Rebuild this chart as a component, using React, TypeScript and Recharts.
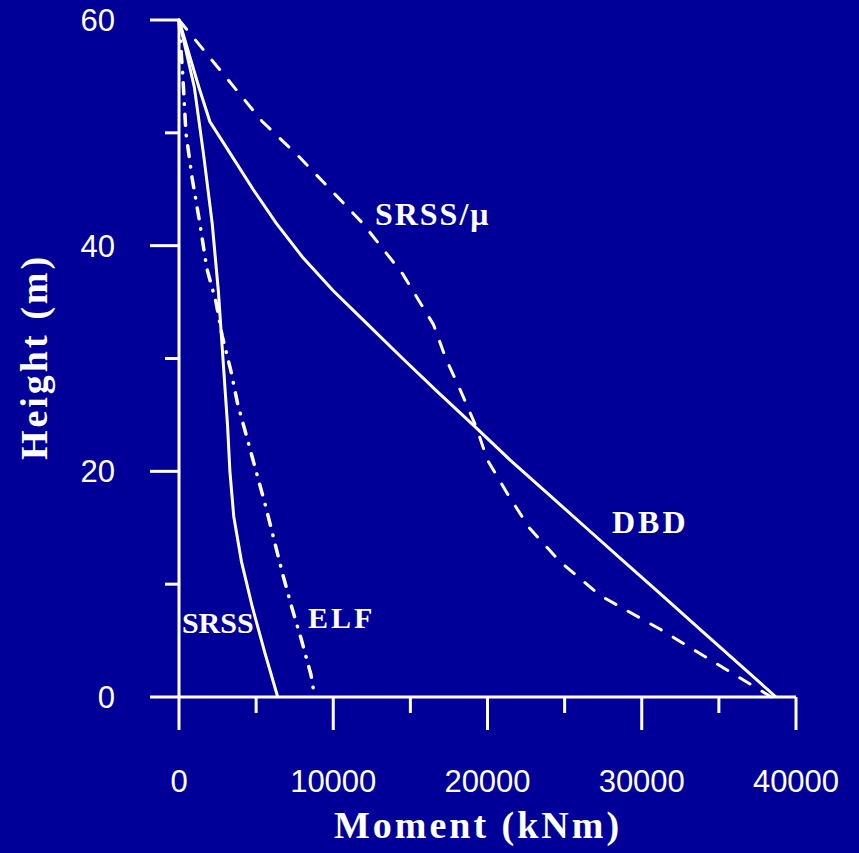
import { LineChart, Line, XAxis, YAxis, ReferenceDot } from 'recharts'

// moment (kNm) vs height (m)
const dbd = [
  { m: 0, h: 60 }, { m: 650, h: 57 }, { m: 1300, h: 54 }, { m: 2000, h: 51 },
  { m: 3400, h: 48 }, { m: 4800, h: 45 }, { m: 6300, h: 42 }, { m: 8000, h: 39 },
  { m: 10000, h: 36 }, { m: 12250, h: 33 }, { m: 14500, h: 30 }, { m: 16800, h: 27 },
  { m: 19150, h: 24 }, { m: 21470, h: 21 }, { m: 23930, h: 18 }, { m: 26390, h: 15 },
  { m: 28850, h: 12 }, { m: 31320, h: 9 }, { m: 33780, h: 6 }, { m: 36240, h: 3 },
  { m: 38700, h: 0 },
]

const srssMu = [
  { m: 0, h: 60 }, { m: 5400, h: 51 }, { m: 7700, h: 48 }, { m: 11900, h: 42 },
  { m: 14500, h: 37.5 }, { m: 16500, h: 33 }, { m: 17300, h: 30 }, { m: 18300, h: 27 },
  { m: 19250, h: 24 }, { m: 20000, h: 21 }, { m: 21300, h: 18 }, { m: 22700, h: 15 },
  { m: 24700, h: 12 }, { m: 27300, h: 9 }, { m: 31200, h: 6 }, { m: 34800, h: 3 },
  { m: 38400, h: 0 },
]

const srss = [
  { m: 0, h: 60 }, { m: 1000, h: 54 }, { m: 1600, h: 48 }, { m: 2150, h: 42 },
  { m: 2550, h: 36 }, { m: 2850, h: 30 }, { m: 3150, h: 24 }, { m: 3300, h: 20 },
  { m: 3550, h: 16 }, { m: 4050, h: 12 }, { m: 4750, h: 8 }, { m: 5550, h: 4 },
  { m: 6400, h: 0 },
]

const elf = [
  { m: 0, h: 60 }, { m: 250, h: 55 }, { m: 450, h: 50 }, { m: 850, h: 46 },
  { m: 1350, h: 42 }, { m: 1800, h: 38 }, { m: 2400, h: 35 }, { m: 2800, h: 32 },
  { m: 3350, h: 29 }, { m: 3800, h: 26 }, { m: 4400, h: 23 }, { m: 5000, h: 20 },
  { m: 5600, h: 17 }, { m: 6150, h: 14 }, { m: 6700, h: 11 }, { m: 7300, h: 8 },
  { m: 7950, h: 5 }, { m: 8550, h: 2 }, { m: 8800, h: 0 },
]

const xTicks = [0, 5000, 10000, 15000, 20000, 25000, 30000, 35000, 40000]
const yTicks = [0, 10, 20, 30, 40, 50, 60]

const labels = [
  { text: 'SRSS/μ', m: 12700, h: 41.8, size: 32, spacing: 2 },
  { text: 'DBD', m: 28070, h: 14.5, size: 32, spacing: 3 },
  { text: 'SRSS', m: 190, h: 5.7, size: 30, spacing: 0 },
  { text: 'ELF', m: 8360, h: 6.1, size: 30, spacing: 3 },
]

const BG = '#000099'
const FG = '#ffffff'
const SANS = '"Liberation Sans", Arial, sans-serif'
const SERIF = '"Liberation Serif", "Times New Roman", serif'

function XTick({ x, y, payload }: any) {
  const major = payload.value % 10000 === 0
  return (
    <g>
      <line x1={x} y1={y} x2={x} y2={y + (major ? 33 : 16)} stroke={FG} strokeWidth={3} />
      {major && (
        <text x={x} y={y + 95} textAnchor="middle" fill={FG} fontSize={31} fontFamily={SANS}>
          {payload.value}
        </text>
      )}
    </g>
  )
}

function YTick({ x, y, payload }: any) {
  const major = payload.value % 20 === 0
  return (
    <g>
      <line x1={x} y1={y} x2={x - (major ? 29 : 14)} y2={y} stroke={FG} strokeWidth={3} />
      {major && (
        <text x={x - 64} y={y + 11} textAnchor="end" fill={FG} fontSize={31} fontFamily={SANS}>
          {payload.value}
        </text>
      )}
    </g>
  )
}

export default function App() {
  return (
    <div style={{ position: 'fixed', left: 0, top: 0, width: 859, height: 853, background: BG }}>
      <LineChart width={859} height={853} margin={{ top: 20, right: 63, left: 0, bottom: 0 }}>
        <XAxis
          dataKey="m"
          type="number"
          domain={[0, 40000]}
          ticks={xTicks}
          interval={0}
          height={156}
          tickSize={0}
          tickMargin={0}
          tickLine={false}
          axisLine={{ stroke: FG, strokeWidth: 3 }}
          tick={<XTick />}
          label={{
            content: () => (
              <text x={478} y={838} textAnchor="middle" fill={FG} fontSize={38} fontWeight="bold"
                fontFamily={SERIF} letterSpacing={3}>
                Moment (kNm)
              </text>
            ),
          }}
        />
        <YAxis
          dataKey="h"
          type="number"
          domain={[0, 60]}
          ticks={yTicks}
          interval={0}
          width={179}
          tickSize={0}
          tickMargin={0}
          tickLine={false}
          axisLine={{ stroke: FG, strokeWidth: 3 }}
          tick={<YTick />}
          label={{
            content: () => (
              <text x={47} y={357} transform="rotate(-90, 47, 357)" textAnchor="middle" fill={FG}
                fontSize={38} fontWeight="bold" fontFamily={SERIF} letterSpacing={3}>
                Height (m)
              </text>
            ),
          }}
        />
        <Line data={dbd} dataKey="h" type="linear" stroke={FG} strokeWidth={3} dot={false} isAnimationActive={false} />
        <Line data={srssMu} dataKey="h" type="linear" stroke={FG} strokeWidth={3} strokeDasharray="12 14"
          strokeLinecap="round" dot={false} isAnimationActive={false} />
        <Line data={srss} dataKey="h" type="linear" stroke={FG} strokeWidth={3} dot={false} isAnimationActive={false} />
        <Line data={elf} dataKey="h" type="linear" stroke={FG} strokeWidth={3.5} strokeDasharray="11 10 0.5 10"
          strokeLinecap="round" dot={false} isAnimationActive={false} />
        {labels.map((l) => (
          <ReferenceDot
            key={l.text}
            x={l.m}
            y={l.h}
            r={0}
            ifOverflow="visible"
            shape={(p: any) => (
              <text x={p.cx} y={p.cy} fill={FG} fontSize={l.size} fontWeight="bold" fontFamily={SERIF}
                letterSpacing={l.spacing}>
                {l.text}
              </text>
            )}
          />
        ))}
      </LineChart>
    </div>
  )
}
